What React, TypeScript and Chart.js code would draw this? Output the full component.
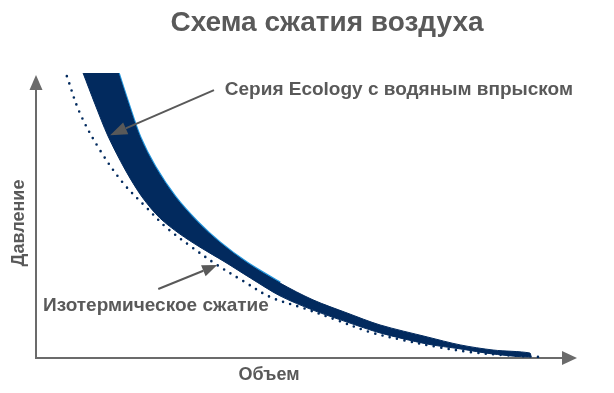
import { useEffect, useRef } from 'react';
import { Chart, registerables } from 'chart.js';

Chart.register(...registerables);

const titleText = 'Схема сжатия воздуха';
const xAxisLabel = 'Объем';
const yAxisLabel = 'Давление';
const ecologyLabel = 'Серия Ecology с водяным впрыском';
const isoLabel = 'Изотермическое сжатие';

// Ecology series band: upper (right) edge
const upperVolume = [15.2, 17.0, 19.2, 22.0, 25.7, 29.8, 34.0, 39.0, 45.1, 51.2, 57.5, 63.6, 72.3, 78.4, 84.5, 91.3];
const upperPressure = [100, 89.5, 77.5, 67.0, 56.5, 47.7, 40.4, 33.3, 26.3, 20.4, 15.8, 11.6, 7.4, 4.6, 2.8, 1.75];
// Ecology series band: lower (left) edge
const lowerVolume = [8.7, 10.9, 13.3, 16.5, 19.6, 22.9, 26.6, 30.3, 34.9, 39.6, 45.1, 51.2, 57.5, 63.6, 72.3, 78.4, 84.5, 91.3];
const lowerPressure = [100, 89.1, 77.9, 66.0, 56.5, 49.1, 43.5, 38.9, 33.7, 28.1, 21.8, 16.8, 12.6, 8.8, 4.9, 3.2, 1.4, 0.4];
// Isothermal compression
const isoVolume = [5.7, 8.1, 11.8, 16.1, 20.3, 24.2, 28.8, 33.5, 38.3, 43.3, 49.4, 55.6, 61.7, 67.8, 74.1, 80.2, 86.3, 94.1];
const isoPressure = [98.9, 86.0, 73.0, 61.4, 53.0, 45.6, 38.9, 32.6, 27.0, 21.4, 17.5, 13.3, 9.1, 6.3, 3.9, 2.1, 1.05, 0.25];

// annotation anchors (data units)
const ecologyArrowFrom = [32.9, 94.0];
const ecologyArrowTo = [13.7, 78.2];
const ecologyLabelAt = [34.9, 92.2];
const isoArrowFrom = [22.6, 24.2];
const isoArrowTo = [33.5, 32.6];
const isoLabelAt = [1.3, 16.6];

const NAVY = '#022a5e';
const EDGE_BLUE = '#2496dc';
const GREY = '#595959';
const AXIS_GREY = '#6b6b6b';
const FONT = "'Liberation Sans', Arial, sans-serif";

function toPts(xs: number[], ys: number[]) {
  return xs.map((x, i) => ({ x, y: ys[i] }));
}

function drawArrow(ctx: CanvasRenderingContext2D, fx: number, fy: number, tx: number, ty: number, len: number, half: number, color: string, width: number) {
  const a = Math.atan2(ty - fy, tx - fx);
  const bx = tx - len * Math.cos(a);
  const by = ty - len * Math.sin(a);
  ctx.save();
  ctx.strokeStyle = color;
  ctx.fillStyle = color;
  ctx.lineWidth = width;
  ctx.beginPath();
  ctx.moveTo(fx, fy);
  ctx.lineTo(bx, by);
  ctx.stroke();
  ctx.beginPath();
  ctx.moveTo(tx, ty);
  ctx.lineTo(bx + half * Math.sin(a), by - half * Math.cos(a));
  ctx.lineTo(bx - half * Math.sin(a), by + half * Math.cos(a));
  ctx.closePath();
  ctx.fill();
  ctx.restore();
}

const axesPlugin = {
  id: 'axesArrows',
  beforeDatasetsDraw(chart: any) {
    const { ctx, chartArea } = chart;
    const { left, right, top, bottom } = chartArea;
    ctx.save();
    ctx.strokeStyle = AXIS_GREY;
    ctx.fillStyle = AXIS_GREY;
    ctx.lineWidth = 2;
    ctx.beginPath();
    ctx.moveTo(left, bottom);
    ctx.lineTo(left, top + 14);
    ctx.stroke();
    ctx.beginPath();
    ctx.moveTo(left, top + 2);
    ctx.lineTo(left - 6.5, top + 17);
    ctx.lineTo(left + 6.5, top + 17);
    ctx.closePath();
    ctx.fill();
    ctx.beginPath();
    ctx.moveTo(left - 1, bottom);
    ctx.lineTo(right - 14, bottom);
    ctx.stroke();
    ctx.beginPath();
    ctx.moveTo(right, bottom);
    ctx.lineTo(right - 15, bottom - 7);
    ctx.lineTo(right - 15, bottom + 7);
    ctx.closePath();
    ctx.fill();
    ctx.restore();
  },
  afterDraw(chart: any) {
    const { ctx, scales } = chart;
    const xs = scales.x;
    const ys = scales.y;
    const px = (v: number) => xs.getPixelForValue(v);
    const py = (v: number) => ys.getPixelForValue(v);
    ctx.save();
    ctx.fillStyle = GREY;
    ctx.font = `bold 28px ${FONT}`;
    ctx.textAlign = 'center';
    ctx.textBaseline = 'alphabetic';
    ctx.fillText(titleText, 327, 31);
    ctx.font = `bold 18px ${FONT}`;
    ctx.fillText(xAxisLabel, 269, 380);
    ctx.save();
    ctx.translate(24, 223);
    ctx.rotate(-Math.PI / 2);
    ctx.fillText(yAxisLabel, 0, 0);
    ctx.restore();
    ctx.font = `bold 19px ${FONT}`;
    ctx.textAlign = 'left';
    ctx.fillText(ecologyLabel, px(ecologyLabelAt[0]), py(ecologyLabelAt[1]));
    ctx.fillText(isoLabel, px(isoLabelAt[0]), py(isoLabelAt[1]));
    ctx.restore();
    drawArrow(ctx, px(ecologyArrowFrom[0]), py(ecologyArrowFrom[1]), px(ecologyArrowTo[0]), py(ecologyArrowTo[1]), 17, 6.5, GREY, 2);
    drawArrow(ctx, px(isoArrowFrom[0]), py(isoArrowFrom[1]), px(isoArrowTo[0]), py(isoArrowTo[1]), 15, 6, GREY, 2);
  },
};

export default function App() {
  const ref = useRef<HTMLCanvasElement | null>(null);
  useEffect(() => {
    document.body.style.margin = '0';
    const canvas = ref.current;
    if (!canvas) return;
    const upper = toPts(upperVolume, upperPressure);
    const lower = toPts(lowerVolume, lowerPressure);
    const band = [...upper, ...lower.slice().reverse()];
    const chart = new Chart(canvas, {
      type: 'line',
      data: {
        datasets: [
          {
            label: 'iso',
            data: toPts(isoVolume, isoPressure),
            borderColor: NAVY,
            borderWidth: 2.6,
            borderDash: [0, 7.5],
            borderCapStyle: 'round',
            pointRadius: 0,
            fill: false,
            tension: 0.35,
            order: 0,
          },
          {
            label: 'band',
            data: band,
            borderColor: NAVY,
            backgroundColor: NAVY,
            borderWidth: 1,
            pointRadius: 0,
            fill: 'shape',
            tension: 0.3,
            order: 1,
          },
          {
            label: 'edge',
            data: upper.slice(0, 9),
            borderColor: EDGE_BLUE,
            borderWidth: 3,
            pointRadius: 0,
            fill: false,
            tension: 0.3,
            order: 2,
          },
        ],
      } as any,
      options: {
        animation: false,
        responsive: false,
        layout: { padding: { left: 36, top: 73, right: 37, bottom: 35 } },
        plugins: { legend: { display: false }, tooltip: { enabled: false }, title: { display: false } },
        scales: {
          x: { type: 'linear', min: 0, max: 100, display: false },
          y: { type: 'linear', min: 0, max: 100, display: false },
        },
      } as any,
      plugins: [axesPlugin],
    });
    return () => chart.destroy();
  }, []);
  return (
    <div style={{ width: 614, height: 393 }}>
      <canvas ref={ref} width={614} height={393} style={{ display: 'block' }} />
    </div>
  );
}
